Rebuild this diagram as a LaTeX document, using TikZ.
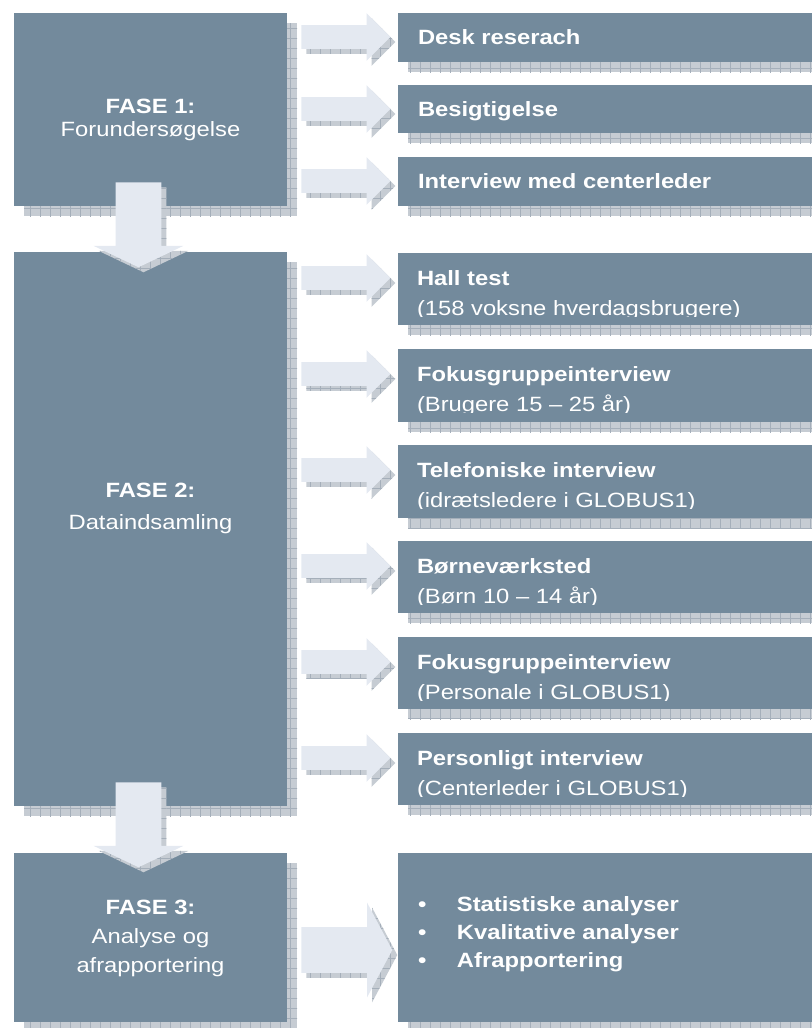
\documentclass[tikz,border=0pt]{standalone}
\usepackage{fontspec}
\setmainfont{Liberation Sans}[FakeStretch=1.15]
\usetikzlibrary{fit,shapes.arrows,patterns.meta}
\definecolor{boxblue}{RGB}{115,138,156}
\definecolor{shadefill}{RGB}{198,204,211}
\definecolor{shadeline}{RGB}{165,175,186}
\definecolor{arrowfill}{RGB}{228,233,241}
\tikzset{
  gridshadow/.style={
    preaction={fill=shadefill,transform canvas={xshift=#1,yshift=-#1}},
    preaction={pattern={Hatch[angle=0,distance=7.5pt,line width=0.5pt]},pattern color=shadeline,transform canvas={xshift=#1,yshift=-#1}}},
  phasebox/.style={fill=boxblue,inner sep=0pt,gridshadow=7.5pt},
  blockarrow/.style={single arrow,fill=arrowfill,inner xsep=0pt,gridshadow=3.75pt},
  smallarrow/.style={blockarrow,minimum height=66.75pt,inner ysep=8.625pt,single arrow head extend=9pt,single arrow tip angle=90},
  bigarrow/.style={blockarrow,minimum height=68.25pt,inner ysep=16.875pt,single arrow head extend=18.375pt,single arrow tip angle=124},
  downarrow/.style={blockarrow,minimum height=63.75pt,inner ysep=16.875pt,single arrow head extend=16.5pt,single arrow tip angle=129,rotate=-90},
  wtext/.style={text=white,inner sep=0pt},
  phasetext/.style={wtext,align=center,anchor=north},
  steptitle/.style={wtext,anchor=base west,font=\fontsize{15.5pt}{18pt}\selectfont\bfseries},
  stepsub/.style={wtext,anchor=base west,font=\fontsize{15.5pt}{18pt}\selectfont},
}

\begin{document}
\begin{tikzpicture}[x=0.75pt,y=-0.75pt]
\useasboundingbox (0,0) rectangle (811,1028);
% phases
\node[phasebox,fit={(14,13) (287,206)}] (f1) {};
\node[phasebox,fit={(14,252) (287,806)}] (f2) {};
\node[phasebox,fit={(14,853) (287,1022)}] (f3) {};
\node[phasetext,font=\fontsize{15.5pt}{17.25pt}\selectfont] (f1txt) at ([shift={(0,86)}]f1.north) {\textbf{FASE 1:}\\Forundersøgelse};
\node[phasetext,font=\fontsize{15.5pt}{24pt}\selectfont] (f2txt) at ([shift={(0,231)}]f2.north) {\textbf{FASE 2:}\\Dataindsamling};
\node[phasetext,font=\fontsize{15.5pt}{21.75pt}\selectfont] (f3txt) at ([shift={(0,47)}]f3.north) {\textbf{FASE 3:}\\Analyse og\\afrapportering};
% steps of fase 1
\node[phasebox,fit={(398,13) (815,62)}] (d1) {};
\node[phasebox,fit={(398,85) (815,133)}] (d2) {};
\node[phasebox,fit={(398,157) (815,206)}] (d3) {};
\node[steptitle] (d1ttl) at ([shift={(20,32)}]d1.north west) {Desk reserach};
\node[steptitle] (d2ttl) at ([shift={(20,32)}]d2.north west) {Besigtigelse};
\node[steptitle] (d3ttl) at ([shift={(20,32)}]d3.north west) {Interview med centerleder};
% steps of fase 2
\node[phasebox,fit={(398,253) (815,325)}] (h1) {};
\node[phasebox,fit={(398,349) (815,422)}] (h2) {};
\node[phasebox,fit={(398,445) (815,518)}] (h3) {};
\node[phasebox,fit={(398,541) (815,613)}] (h4) {};
\node[phasebox,fit={(398,637) (815,709)}] (h5) {};
\node[phasebox,fit={(398,733) (815,805)}] (h6) {};
\node[steptitle] (h1ttl) at ([shift={(19,33)}]h1.north west) {Hall test};
\node[steptitle] (h2ttl) at ([shift={(19,33)}]h2.north west) {Fokusgruppeinterview};
\node[steptitle] (h3ttl) at ([shift={(19,33)}]h3.north west) {Telefoniske interview};
\node[steptitle] (h4ttl) at ([shift={(19,33)}]h4.north west) {Børneværksted};
\node[steptitle] (h5ttl) at ([shift={(19,33)}]h5.north west) {Fokusgruppeinterview};
\node[steptitle] (h6ttl) at ([shift={(19,33)}]h6.north west) {Personligt interview};
\begin{scope}
\clip (h1.north west) rectangle ([shift={(0,64)}]h1.north east);
\node[stepsub] (h1sub) at ([shift={(19,63)}]h1.north west) {(158 voksne hverdagsbrugere)};
\end{scope}
\begin{scope}
\clip (h2.north west) rectangle ([shift={(0,64)}]h2.north east);
\node[stepsub] (h2sub) at ([shift={(19,63)}]h2.north west) {(Brugere 15 – 25 år)};
\end{scope}
\begin{scope}
\clip (h3.north west) rectangle ([shift={(0,64)}]h3.north east);
\node[stepsub] (h3sub) at ([shift={(19,63)}]h3.north west) {(idrætsledere i GLOBUS1)};
\end{scope}
\begin{scope}
\clip (h4.north west) rectangle ([shift={(0,64)}]h4.north east);
\node[stepsub] (h4sub) at ([shift={(19,63)}]h4.north west) {(Børn 10 – 14 år)};
\end{scope}
\begin{scope}
\clip (h5.north west) rectangle ([shift={(0,64)}]h5.north east);
\node[stepsub] (h5sub) at ([shift={(19,63)}]h5.north west) {(Personale i GLOBUS1)};
\end{scope}
\begin{scope}
\clip (h6.north west) rectangle ([shift={(0,64)}]h6.north east);
\node[stepsub] (h6sub) at ([shift={(19,63)}]h6.north west) {(Centerleder i GLOBUS1)};
\end{scope}
% result of fase 3
\node[phasebox,fit={(398,853) (815,1022)}] (res) {};
\node[wtext,anchor=north west,align=left,font=\fontsize{15.5pt}{21pt}\selectfont\bfseries] (restxt) at ([shift={(20,44)}]res.north west)
  {\makebox[29.25pt][l]{\textbullet}Statistiske analyser\\\makebox[29.25pt][l]{\textbullet}Kvalitative analyser\\\makebox[29.25pt][l]{\textbullet}Afrapportering};
% arrows
\node[smallarrow,anchor=tail] (a1) at (301,37) {};
\node[smallarrow,anchor=tail] (a2) at (301,109) {};
\node[smallarrow,anchor=tail] (a3) at (301,181) {};
\node[smallarrow,anchor=tail] (b1) at (301,278) {};
\node[smallarrow,anchor=tail] (b2) at (301,374) {};
\node[smallarrow,anchor=tail] (b3) at (301,470) {};
\node[smallarrow,anchor=tail] (b4) at (301,566) {};
\node[smallarrow,anchor=tail] (b5) at (301,662) {};
\node[smallarrow,anchor=tail] (b6) at (301,758) {};
\node[bigarrow,anchor=tail] (c1) at (301,950) {};
\node[downarrow,anchor=tail] (v1) at (138.5,182) {};
\node[downarrow,anchor=tail] (v2) at (138.5,782) {};
\end{tikzpicture}
\end{document}
